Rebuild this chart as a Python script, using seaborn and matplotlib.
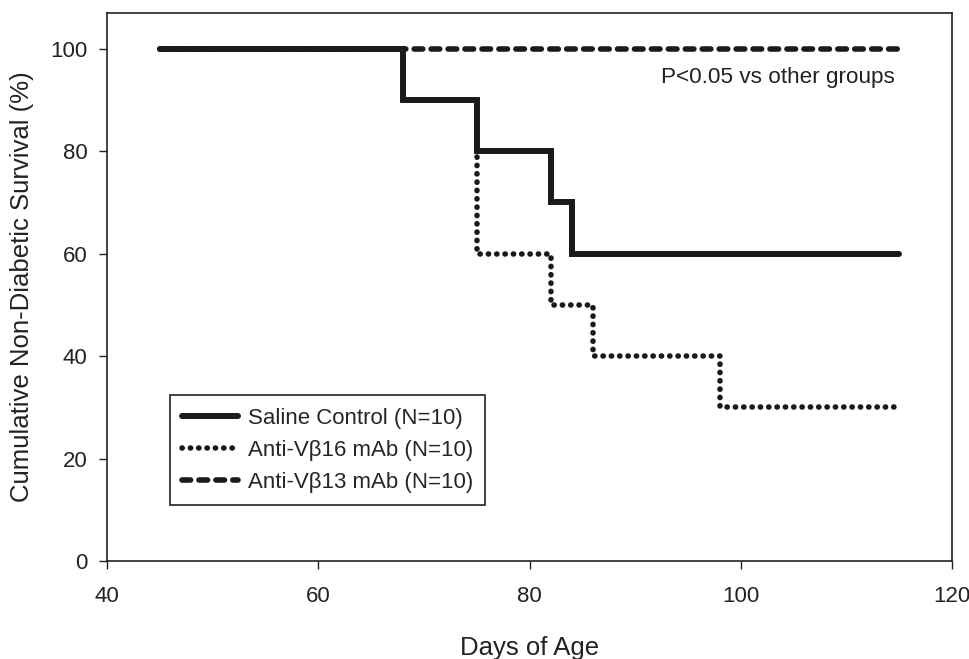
import pandas as pd
import seaborn as sns
import matplotlib.pyplot as plt

# Kaplan-Meier step data (day of event, survival % from that day on)
saline_days = [45, 68, 75, 82, 84, 115]
saline_surv = [100, 90, 80, 70, 60, 60]

vb16_days = [45, 68, 75, 82, 86, 98, 115]
vb16_surv = [100, 90, 60, 50, 40, 30, 30]

vb13_days = [45, 115]
vb13_surv = [100, 100]

labels = ['Saline Control (N=10)', 'Anti-V\u03b216 mAb (N=10)', 'Anti-V\u03b213 mAb (N=10)']
x_ticks = [40, 60, 80, 100, 120]
y_ticks = [0, 20, 40, 60, 80, 100]


def plot_survival():
    sns.set_style('ticks')
    plt.rcParams['font.family'] = ['Liberation Sans', 'DejaVu Sans']

    fig = plt.figure(figsize=(9.69, 6.59), dpi=100)
    ax = fig.add_axes([0.1104, 0.1487, 0.8721, 0.8316])

    df_sal = pd.DataFrame({'day': saline_days, 'surv': saline_surv})
    df_16 = pd.DataFrame({'day': vb16_days, 'surv': vb16_surv})
    df_13 = pd.DataFrame({'day': vb13_days, 'surv': vb13_surv})

    ink = '#1a1a1a'
    sns.lineplot(data=df_13, x='day', y='surv', ax=ax, color=ink, lw=4,
                 linestyle=(0, (1.55, 1.5)), dash_capstyle='round',
                 drawstyle='steps-post', estimator=None, sort=False, label=labels[2])
    sns.lineplot(data=df_16, x='day', y='surv', ax=ax, color=ink, lw=4.0,
                 linestyle=(0, (0.05, 1.45)), dash_capstyle='round',
                 drawstyle='steps-post', estimator=None, sort=False, label=labels[1])
    sns.lineplot(data=df_sal, x='day', y='surv', ax=ax, color=ink, lw=4.3,
                 solid_capstyle='round', solid_joinstyle='miter',
                 drawstyle='steps-post', estimator=None, sort=False, label=labels[0])

    ax.set_xlim(40, 120)
    ax.set_ylim(0, 107)
    ax.set_xticks(x_ticks)
    ax.set_yticks(y_ticks)
    ax.tick_params(direction='out', length=6, width=1, labelsize=16, color='#222222',
                   labelcolor='#222222')
    ax.tick_params(axis='x', pad=12)
    ax.tick_params(axis='y', pad=8)
    for s in ax.spines.values():
        s.set_linewidth(1.2)
        s.set_color('#222222')

    ax.set_xlabel('Days of Age', fontsize=18.5, color='#222222')
    ax.xaxis.set_label_coords(0.5, -0.137)
    ax.set_ylabel('Cumulative Non-Diabetic Survival (%)', fontsize=18.5, color='#222222',
                  labelpad=12)

    ax.text(114.6, 94.5, 'P<0.05 vs other groups', fontsize=16.2, ha='right', va='center',
            color='#222222')

    handles, labs = ax.get_legend_handles_labels()
    order = [labs.index(l) for l in labels]
    leg = ax.legend([handles[i] for i in order], [labs[i] for i in order],
                    loc='lower left', bbox_to_anchor=(0.0746, 0.102), borderaxespad=0,
                    fontsize=16, frameon=True, fancybox=False, edgecolor='#222222',
                    framealpha=1, handlelength=2.5, handletextpad=0.45,
                    borderpad=0.55, labelspacing=0.5)
    leg.get_frame().set_linewidth(1.2)

    fig.savefig('out.png', dpi=100)


if __name__ == "__main__":
    plot_survival()
